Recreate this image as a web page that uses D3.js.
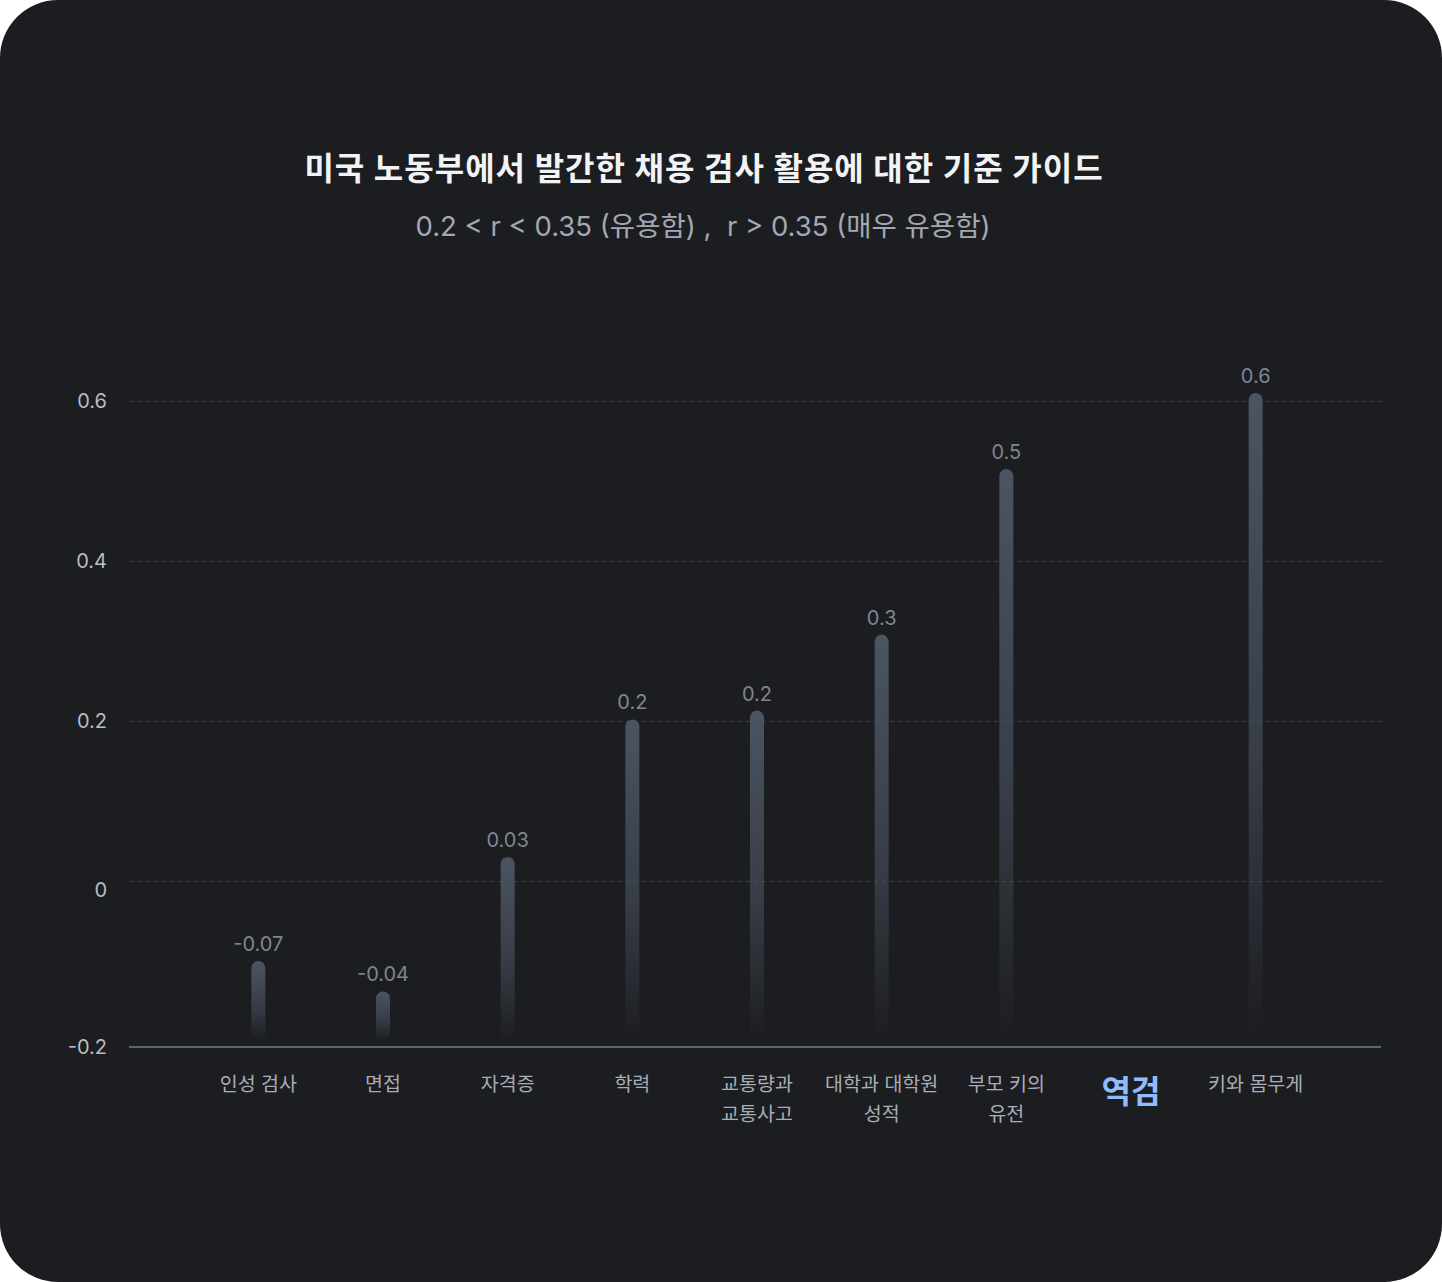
<!DOCTYPE html>
<html>
<head>
<meta charset="utf-8">
<script src="https://cdn.jsdelivr.net/npm/d3@7"></script>
<style>
  body { margin: 0; background: #ffffff; }
  svg { display: block; font-family: Inter, 'Noto Sans CJK KR', sans-serif; }
  .title { fill: #f2f3f5; font-size: 32px; font-weight: 700; letter-spacing: 1px; }
  .subtitle { fill: #a3a8b2; font-size: 27.5px; }
  .tick-label { fill: #b8bcc4; font-size: 20px; }
  .value-label { fill: #7f8591; font-size: 20px; }
  .x-label { fill: #a8adb6; font-size: 19.5px; }
  .x-label.highlight { fill: #8fbcfb; font-size: 32px; font-weight: 700; }
</style>
</head>
<body>
<svg id="chart" width="1442" height="1282"></svg>
<script>
const categories = ['인성 검사', '면접', '자격증', '학력', '교통량과\n교통사고', '대학과 대학원\n성적', '부모 키의\n유전', '역검', '키와 몸무게'];
const barValues = [-0.10, -0.138, 0.03, 0.202, 0.213, 0.308, 0.515, null, 0.61];
const valueLabels = ['-0.07', '-0.04', '0.03', '0.2', '0.2', '0.3', '0.5', '', '0.6'];
const yTicks = [-0.2, 0, 0.2, 0.4, 0.6];
const highlight = '역검';

const svg = d3.select('#chart');
const width = 1442;
const height = 1282;

svg.append('rect')
    .attr('width', width)
    .attr('height', height)
    .attr('rx', 58)
    .attr('fill', '#1c1d21');

const defs = svg.append('defs');
const grad = defs.append('linearGradient')
    .attr('id', 'barGrad')
    .attr('x1', 0).attr('y1', 0)
    .attr('x2', 0).attr('y2', 1);
grad.append('stop').attr('offset', '0%').attr('stop-color', '#4b5462').attr('stop-opacity', 1);
grad.append('stop').attr('offset', '55%').attr('stop-color', '#4b5462').attr('stop-opacity', 0.6);
grad.append('stop').attr('offset', '100%').attr('stop-color', '#4b5462').attr('stop-opacity', 0);

// title
svg.append('text')
    .attr('class', 'title')
    .attr('x', width / 2 - 17)
    .attr('y', 180)
    .attr('text-anchor', 'middle')
    .text('미국 노동부에서 발간한 채용 검사 활용에 대한 기준 가이드');
svg.append('text')
    .attr('class', 'subtitle')
    .attr('x', width / 2 - 18)
    .attr('y', 236)
    .attr('text-anchor', 'middle')
    .text('0.2 < r < 0.35 (유용함) ,\u00a0\u00a0r > 0.35 (매우 유용함)');

const xScale = d3.scaleBand()
    .domain(categories)
    .range([196, 1318]);
const yScale = d3.scaleLinear()
    .domain([-0.2, 0.6])
    .range([1041, 401]);

const gridLeft = 130, gridRight = 1384;

// grid lines (skip the bottom one, the axis line sits there)
svg.append('g')
    .selectAll('line')
    .data(yTicks.filter(d => d > -0.2))
    .enter()
    .append('line')
    .attr('x1', gridLeft)
    .attr('x2', gridRight)
    .attr('y1', d => yScale(d) + 0.5)
    .attr('y2', d => yScale(d) + 0.5)
    .attr('stroke', '#3b3f47')
    .attr('stroke-width', 1.2)
    .attr('stroke-dasharray', '4,4');

// y tick labels
svg.append('g')
    .selectAll('text')
    .data(yTicks)
    .enter()
    .append('text')
    .attr('class', 'tick-label')
    .attr('x', 107)
    .attr('y', d => d === -0.2 ? yScale(d) + 13 : (d === 0 ? yScale(d) + 16 : yScale(d) + 7))
    .attr('text-anchor', 'end')
    .text(d => String(d));

// bars
const data = categories.map((c, i) => ({ cat: c, value: barValues[i], label: valueLabels[i] }));
const barW = 14;
const bars = data.filter(d => d.value !== null);

svg.append('g')
    .selectAll('rect')
    .data(bars)
    .enter()
    .append('rect')
    .attr('x', d => xScale(d.cat) + xScale.bandwidth() / 2 - barW / 2)
    .attr('y', d => yScale(d.value))
    .attr('width', barW)
    .attr('height', d => yScale(-0.2) - yScale(d.value))
    .attr('rx', barW / 2)
    .attr('fill', 'url(#barGrad)');

svg.append('g')
    .selectAll('text')
    .data(bars)
    .enter()
    .append('text')
    .attr('class', 'value-label')
    .attr('x', d => xScale(d.cat) + xScale.bandwidth() / 2)
    .attr('y', d => yScale(d.value) - 10)
    .attr('text-anchor', 'middle')
    .text(d => d.label);

// bottom axis line
svg.append('line')
    .attr('x1', 129)
    .attr('x2', 1381)
    .attr('y1', yScale(-0.2) + 6)
    .attr('y2', yScale(-0.2) + 6)
    .attr('stroke', '#5b6472')
    .attr('stroke-width', 2);

// x labels
const xl = svg.append('g')
    .selectAll('text')
    .data(categories)
    .enter()
    .append('text')
    .attr('class', d => d === highlight ? 'x-label highlight' : 'x-label')
    .attr('x', d => xScale(d) + xScale.bandwidth() / 2)
    .attr('y', d => d === highlight ? 1103 : 1091)
    .attr('text-anchor', 'middle');

xl.selectAll('tspan')
    .data(d => d.split('\n'))
    .enter()
    .append('tspan')
    .attr('x', function() { return d3.select(this.parentNode).attr('x'); })
    .attr('dy', (d, i) => i === 0 ? 0 : 30)
    .text(d => d);
</script>
</body>
</html>
